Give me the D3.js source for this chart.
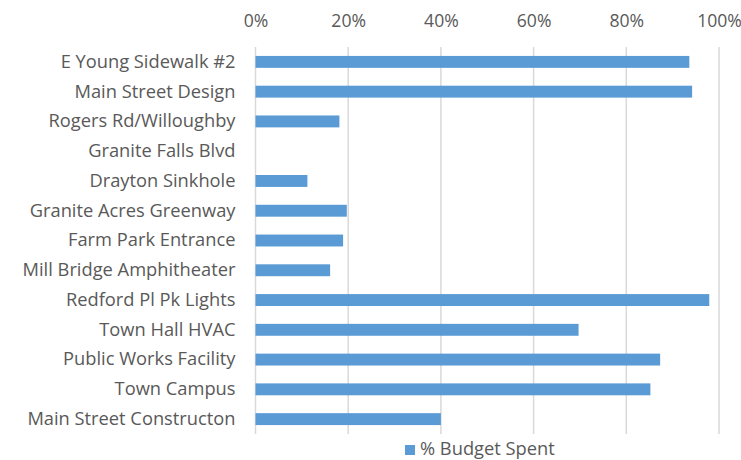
<!DOCTYPE html>
<html>
<head>
<meta charset="utf-8">
<script src="https://cdn.jsdelivr.net/npm/d3@7"></script>
<style>
  html, body { margin: 0; padding: 0; background: #fff; }
  svg { display: block; }
  text { font-family: "Open Sans", "Noto Sans", sans-serif; fill: #595959; }
</style>
</head>
<body>
<svg id="chart" width="741" height="460"></svg>
<script>
// Project names, top to bottom
const projects = [
  "E Young Sidewalk #2",
  "Main Street Design",
  "Rogers Rd/Willoughby",
  "Granite Falls Blvd",
  "Drayton Sinkhole",
  "Granite Acres Greenway",
  "Farm Park Entrance",
  "Mill Bridge Amphitheater",
  "Redford Pl Pk Lights",
  "Town Hall HVAC",
  "Public Works Facility",
  "Town Campus",
  "Main Street Constructon"
];

// Share of budget spent per project (fraction)
const budgetSpent = [
  0.936, 0.942, 0.181, 0, 0.112, 0.197, 0.189, 0.161, 0.979, 0.697, 0.873, 0.852, 0.400
];

const tickValues = [0, 0.2, 0.4, 0.6, 0.8, 1.0];
const seriesName = "% Budget Spent";

const svg = d3.select("#chart");
const margin = { top: 47, left: 255.5, right: 22, bottom: 26 };
const W = 741, H = 460;
const fontSize = 18.3;

const x = d3.scaleLinear()
  .domain([0, 1])
  .range([margin.left, W - margin.right]);

const y = d3.scaleBand()
  .domain(projects)
  .range([margin.top, H - margin.bottom])
  .paddingInner(0.6)
  .paddingOuter(0.3);

// vertical gridlines
svg.append("g")
  .selectAll("line")
  .data(tickValues)
  .join("line")
  .attr("x1", d => x(d)).attr("x2", d => x(d))
  .attr("y1", margin.top).attr("y2", H - margin.bottom)
  .attr("stroke", "#d9d9d9")
  .attr("stroke-width", 1.5);

// top axis labels
const xAxis = d3.axisTop(x)
  .tickValues(tickValues)
  .tickFormat(d3.format(".0%"))
  .tickSize(0)
  .tickPadding(0);

const gx = svg.append("g")
  .attr("transform", `translate(0, 27)`)
  .call(xAxis);
gx.select(".domain").remove();
gx.selectAll("text")
  .attr("font-size", 17.6)
  .attr("font-family", null)
  .attr("fill", "#595959");

// category labels
const yAxis = d3.axisLeft(y).tickSize(0).tickPadding(20);
const gy = svg.append("g")
  .attr("transform", `translate(${margin.left}, 0)`)
  .call(yAxis);
gy.select(".domain").remove();
gy.selectAll("text")
  .attr("font-size", fontSize)
  .attr("font-family", null)
  .attr("fill", "#595959");

// bars
svg.append("g")
  .selectAll("rect")
  .data(projects.map((p, i) => ({ p, v: budgetSpent[i] })))
  .join("rect")
  .attr("x", x(0))
  .attr("y", d => y(d.p))
  .attr("width", d => x(d.v) - x(0))
  .attr("height", y.bandwidth())
  .attr("fill", "#5b9bd5");

// legend
const legend = svg.append("g");
legend.append("rect")
  .attr("x", 405).attr("y", 445)
  .attr("width", 10).attr("height", 10)
  .attr("fill", "#5b9bd5");
legend.append("text")
  .attr("x", 420).attr("y", 455.3)
  .attr("font-size", fontSize)
  .text(seriesName);
</script>
</body>
</html>
